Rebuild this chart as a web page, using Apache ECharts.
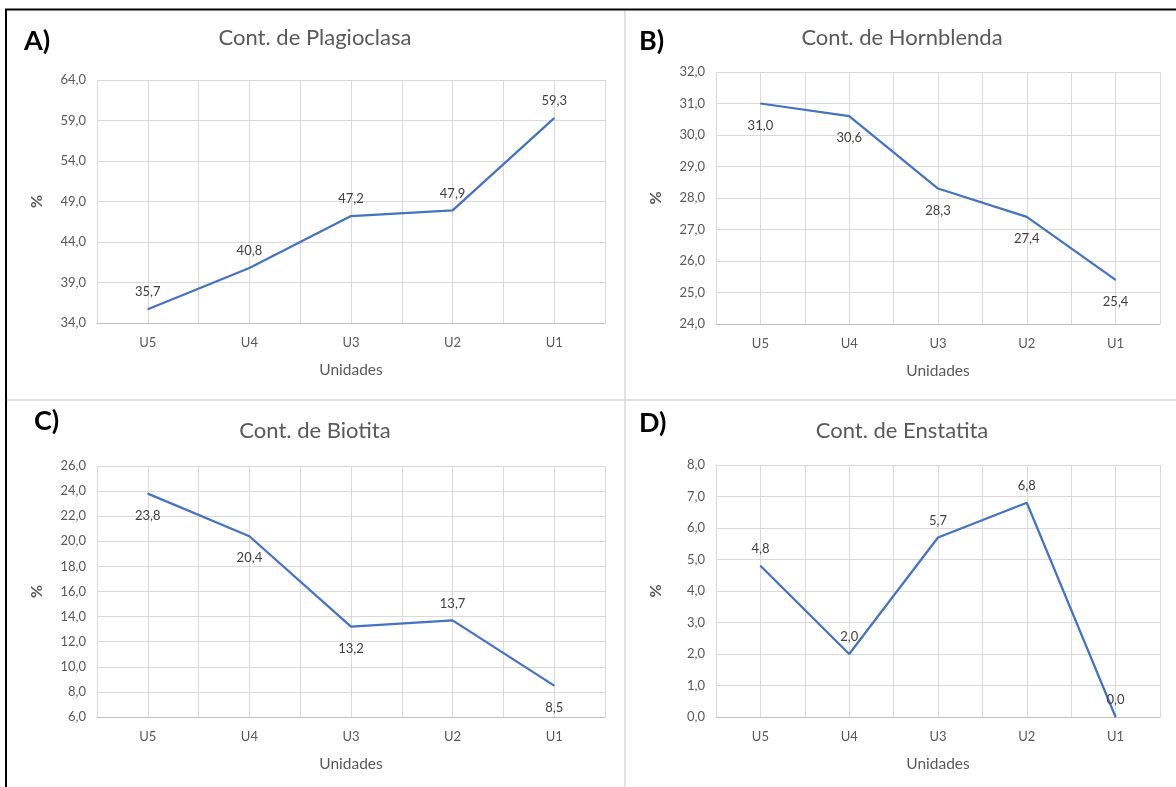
<!DOCTYPE html>
<html>
<head>
<meta charset="utf-8">
<script src="https://cdn.jsdelivr.net/npm/echarts@6/dist/echarts.min.js"></script>
<style>
html,body{margin:0;padding:0;background:#fff;}
#c{width:1176px;height:787px;}
</style>
</head>
<body>
<div id="c"></div>
<script>
const categories = ['U5', 'U4', 'U3', 'U2', 'U1'];
const plagioclasa = [35.7, 40.8, 47.2, 47.9, 59.3];
const hornblenda = [31.0, 30.6, 28.3, 27.4, 25.4];
const biotita = [23.8, 20.4, 13.2, 13.7, 8.5];
const enstatita = [4.8, 2.0, 5.7, 6.8, 0.0];
const titles = ['Cont. de Plagioclasa', 'Cont. de Hornblenda', 'Cont. de Biotita', 'Cont. de Enstatita'];
const letters = ['A)', 'B)', 'C)', 'D)'];
const yRanges = [[34, 64, 5], [24, 32, 1], [6, 26, 2], [0, 8, 1]];
const labelPos = [
  ['top','top','top','top','top'],
  ['bottom','bottom','bottom','bottom','bottom'],
  ['bottom','bottom','bottom','top','bottom'],
  ['top','top','top','top','top']
];
const seriesData = [plagioclasa, hornblenda, biotita, enstatita];

const FONT = 'Lato';
const grids = [
  {left: 97, top: 80, width: 508, height: 243},
  {left: 716, top: 72, width: 444, height: 252},
  {left: 97, top: 466, width: 508, height: 251},
  {left: 716, top: 465, width: 444, height: 252}
];
const titlePos = [[315, 38], [902, 38], [315, 431], [902, 431]];
const letterPos = [[24, 41], [639, 41], [34, 421], [639, 423]];

const fmt = v => v.toFixed(1).replace('.', ',');

const xAxes = [], yAxes = [], series = [], graphics = [];
grids.forEach((g, i) => {
  xAxes.push({
    type: 'category', gridIndex: i, data: categories, boundaryGap: true,
    axisLine: {show: true, lineStyle: {color: '#bfbfbf', width: 1}},
    axisTick: {show: false},
    axisLabel: {color: '#595959', fontSize: 13, fontFamily: FONT, margin: 13},
    splitLine: {show: false},
    name: 'Unidades', nameLocation: 'middle', nameGap: 39,
    nameTextStyle: {color: '#595959', fontSize: 15.5, fontFamily: FONT}
  });
  xAxes.push({
    type: 'value', gridIndex: i, min: -0.5, max: 4.5, interval: 0.5,
    axisLine: {show: false}, axisTick: {show: false}, axisLabel: {show: false},
    splitLine: {show: true, lineStyle: {color: '#d9d9d9', width: 1}}
  });
  const r = yRanges[i];
  yAxes.push({
    type: 'value', gridIndex: i, min: r[0], max: r[1], interval: r[2],
    axisLine: {show: false}, axisTick: {show: false},
    axisLabel: {color: '#595959', fontSize: 13, fontFamily: FONT, margin: 11, formatter: fmt},
    splitLine: {show: true, lineStyle: {color: '#d9d9d9', width: 1}},
    name: '%', nameLocation: 'middle', nameGap: 52, nameRotate: 90,
    nameTextStyle: {color: '#595959', fontSize: 16, fontWeight: 'bold', fontFamily: FONT}
  });
  series.push({
    type: 'line', xAxisIndex: i * 2, yAxisIndex: i,
    data: seriesData[i].map((v, k) => ({value: v, label: {position: labelPos[i][k], distance: labelPos[i][k] === 'bottom' ? 15 : 10}})),
    symbol: 'circle', symbolSize: 1, showSymbol: true, silent: true,
    itemStyle: {color: '#4472c4'},
    lineStyle: {color: '#4472c4', width: 2.25},
    label: {show: true, color: '#404040', fontSize: 13, fontFamily: FONT,
      formatter: p => fmt(p.value)}
  });
  graphics.push({
    type: 'text', x: titlePos[i][0], y: titlePos[i][1],
    style: {text: titles[i], fill: '#595959', font: '22px ' + FONT, textAlign: 'center', textVerticalAlign: 'middle'}
  });
  graphics.push({
    type: 'text', x: letterPos[i][0], y: letterPos[i][1],
    style: {text: letters[i], fill: '#000', font: 'bold 27px ' + FONT, textAlign: 'left', textVerticalAlign: 'middle'}
  });
});

graphics.push({type: 'line', shape: {x1: 625, y1: 10, x2: 625, y2: 787}, style: {stroke: '#d9d9d9', lineWidth: 1.5}});
graphics.push({type: 'line', shape: {x1: 6, y1: 400, x2: 1176, y2: 400}, style: {stroke: '#d9d9d9', lineWidth: 1.5}});
graphics.push({type: 'line', shape: {x1: 5, y1: 9.5, x2: 1176, y2: 9.5}, style: {stroke: '#000', lineWidth: 2}});
graphics.push({type: 'line', shape: {x1: 6, y1: 9, x2: 6, y2: 787}, style: {stroke: '#000', lineWidth: 2}});

const chart = echarts.init(document.getElementById('c'));
chart.setOption({
  animation: false,
  backgroundColor: '#ffffff',
  grid: grids,
  xAxis: xAxes,
  yAxis: yAxes,
  series: series,
  graphic: graphics
});
</script>
</body>
</html>
